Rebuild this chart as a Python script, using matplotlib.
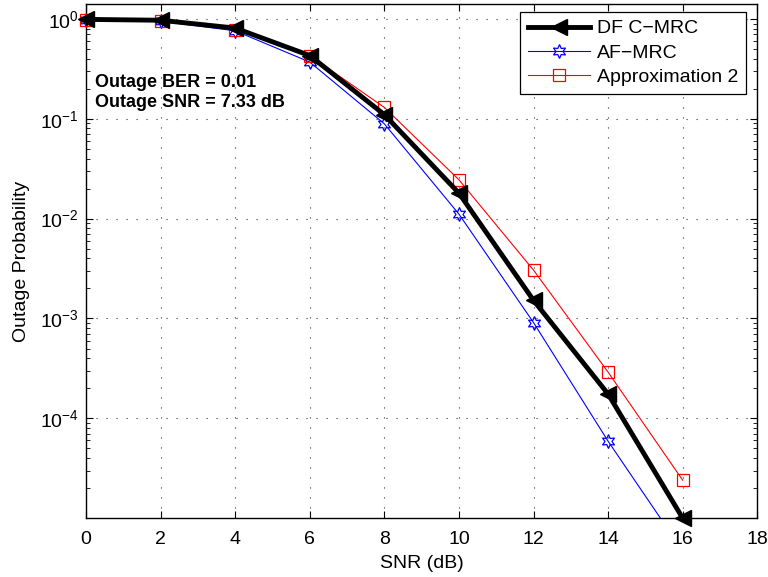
import matplotlib
matplotlib.use("Agg")
import matplotlib.pyplot as plt
from matplotlib.lines import Line2D
from matplotlib.ticker import LogLocator, FixedLocator, NullFormatter

plt.rcParams['font.family'] = ['Liberation Sans', 'DejaVu Sans']
plt.rcParams['mathtext.fontset'] = 'custom'
plt.rcParams['mathtext.rm'] = 'Liberation Sans'
plt.rcParams['mathtext.it'] = 'Liberation Sans'

snr = [0, 2, 4, 6, 8, 10, 12, 14, 16]
df_cmrc = [0.99, 0.97, 0.81, 0.43, 0.11, 0.018, 0.00152, 1.75e-4, 1.0e-5]
af_mrc = [0.98, 0.95, 0.76, 0.37, 0.089, 0.0111, 9.1e-4, 5.9e-5, 4.7e-6]
approx2 = [0.98, 0.96, 0.78, 0.43, 0.13, 0.0245, 0.00305, 2.9e-4, 2.4e-5]
labels = ['DF C\u2212MRC', 'AF\u2212MRC', 'Approximation 2']
yticks = [1e-4, 1e-3, 1e-2, 1e-1, 1e0]
ytick_labels = ['$10^{\\mathregular{\u22124}}$', '$10^{\\mathregular{\u22123}}$',
                '$10^{\\mathregular{\u22122}}$', '$10^{\\mathregular{\u22121}}$',
                '$10^{\\mathregular{0}}$']
xticks = [0, 2, 4, 6, 8, 10, 12, 14, 16, 18]

YMIN, YMAX = 1e-5, 1.41

fig = plt.figure(figsize=(7.68, 5.77), dpi=100)
ax = fig.add_axes([0.112, 0.102, 0.874, 0.891])

styles = [
    dict(color='black', lw=3.5, marker='<', ms=11, mfc='black', mec='black', mew=1.0, z=4),
    dict(color='blue', lw=0.8, marker=(6, 1, 0), ms=10, mfc='none', mec='blue', mew=0.9, z=3),
    dict(color='red', lw=0.8, marker='s', ms=8, mfc='none', mec='red', mew=0.9, z=3),
]
series = [df_cmrc, af_mrc, approx2]
handles = []
for ys, st, lab in zip(series, styles, labels):
    ax.semilogy(snr, ys, color=st['color'], lw=st['lw'], zorder=st['z'])
    pts = [(x, y) for x, y in zip(snr, ys) if YMIN * 0.999 <= y <= YMAX]
    ax.plot([p[0] for p in pts], [p[1] for p in pts], ls='none', marker=st['marker'],
            ms=st['ms'], mfc=st['mfc'], mec=st['mec'], mew=st['mew'],
            zorder=st['z'] + 0.5, clip_on=False)
    handles.append(Line2D([], [], color=st['color'], lw=st['lw'], marker=st['marker'],
                          ms=st['ms'], mfc=st['mfc'], mec=st['mec'], mew=st['mew']))

ax.set_xlim(0, 18)
ax.set_ylim(YMIN, YMAX)
ax.xaxis.set_major_locator(FixedLocator(xticks))
ax.yaxis.set_major_locator(FixedLocator(yticks))
ax.yaxis.set_minor_locator(LogLocator(base=10, subs=range(2, 10), numticks=20))
ax.yaxis.set_minor_formatter(NullFormatter())
ax.set_yticklabels(ytick_labels)
ax.set_xticklabels([str(v) for v in xticks])

ax.tick_params(which='both', direction='in', top=True, right=True, labelsize=14)
ax.tick_params(axis='x', which='major', pad=9)
ax.tick_params(axis='y', which='major', pad=5)
ax.tick_params(which='major', length=5, width=0.8)
ax.tick_params(which='minor', length=3, width=0.6)
ax.grid(True, which='major', linestyle=(0, (1, 8)), color='#333333', lw=0.8)
for s in ax.spines.values():
    s.set_linewidth(1.0)

ax.set_xlabel('SNR (dB)', fontsize=14, labelpad=5)
ax.set_ylabel('Outage Probability', fontsize=14, labelpad=7)

ax.text(0.013, 0.864, 'Outage BER = 0.01\nOutage SNR = 7.33 dB', transform=ax.transAxes,
        fontsize=13, fontweight='bold', va='top', ha='left', linespacing=1.25, zorder=6)

leg = ax.legend(handles, labels, loc='upper right', bbox_to_anchor=(0.9836, 0.9844), fontsize=14,
                handlelength=3.2, borderpad=0.4, labelspacing=0.35, handletextpad=0.36,
                fancybox=False, edgecolor='black', framealpha=1, borderaxespad=0.0)
leg.get_frame().set_linewidth(0.9)
leg.set_zorder(10)

fig.savefig('out.png', dpi=100)
